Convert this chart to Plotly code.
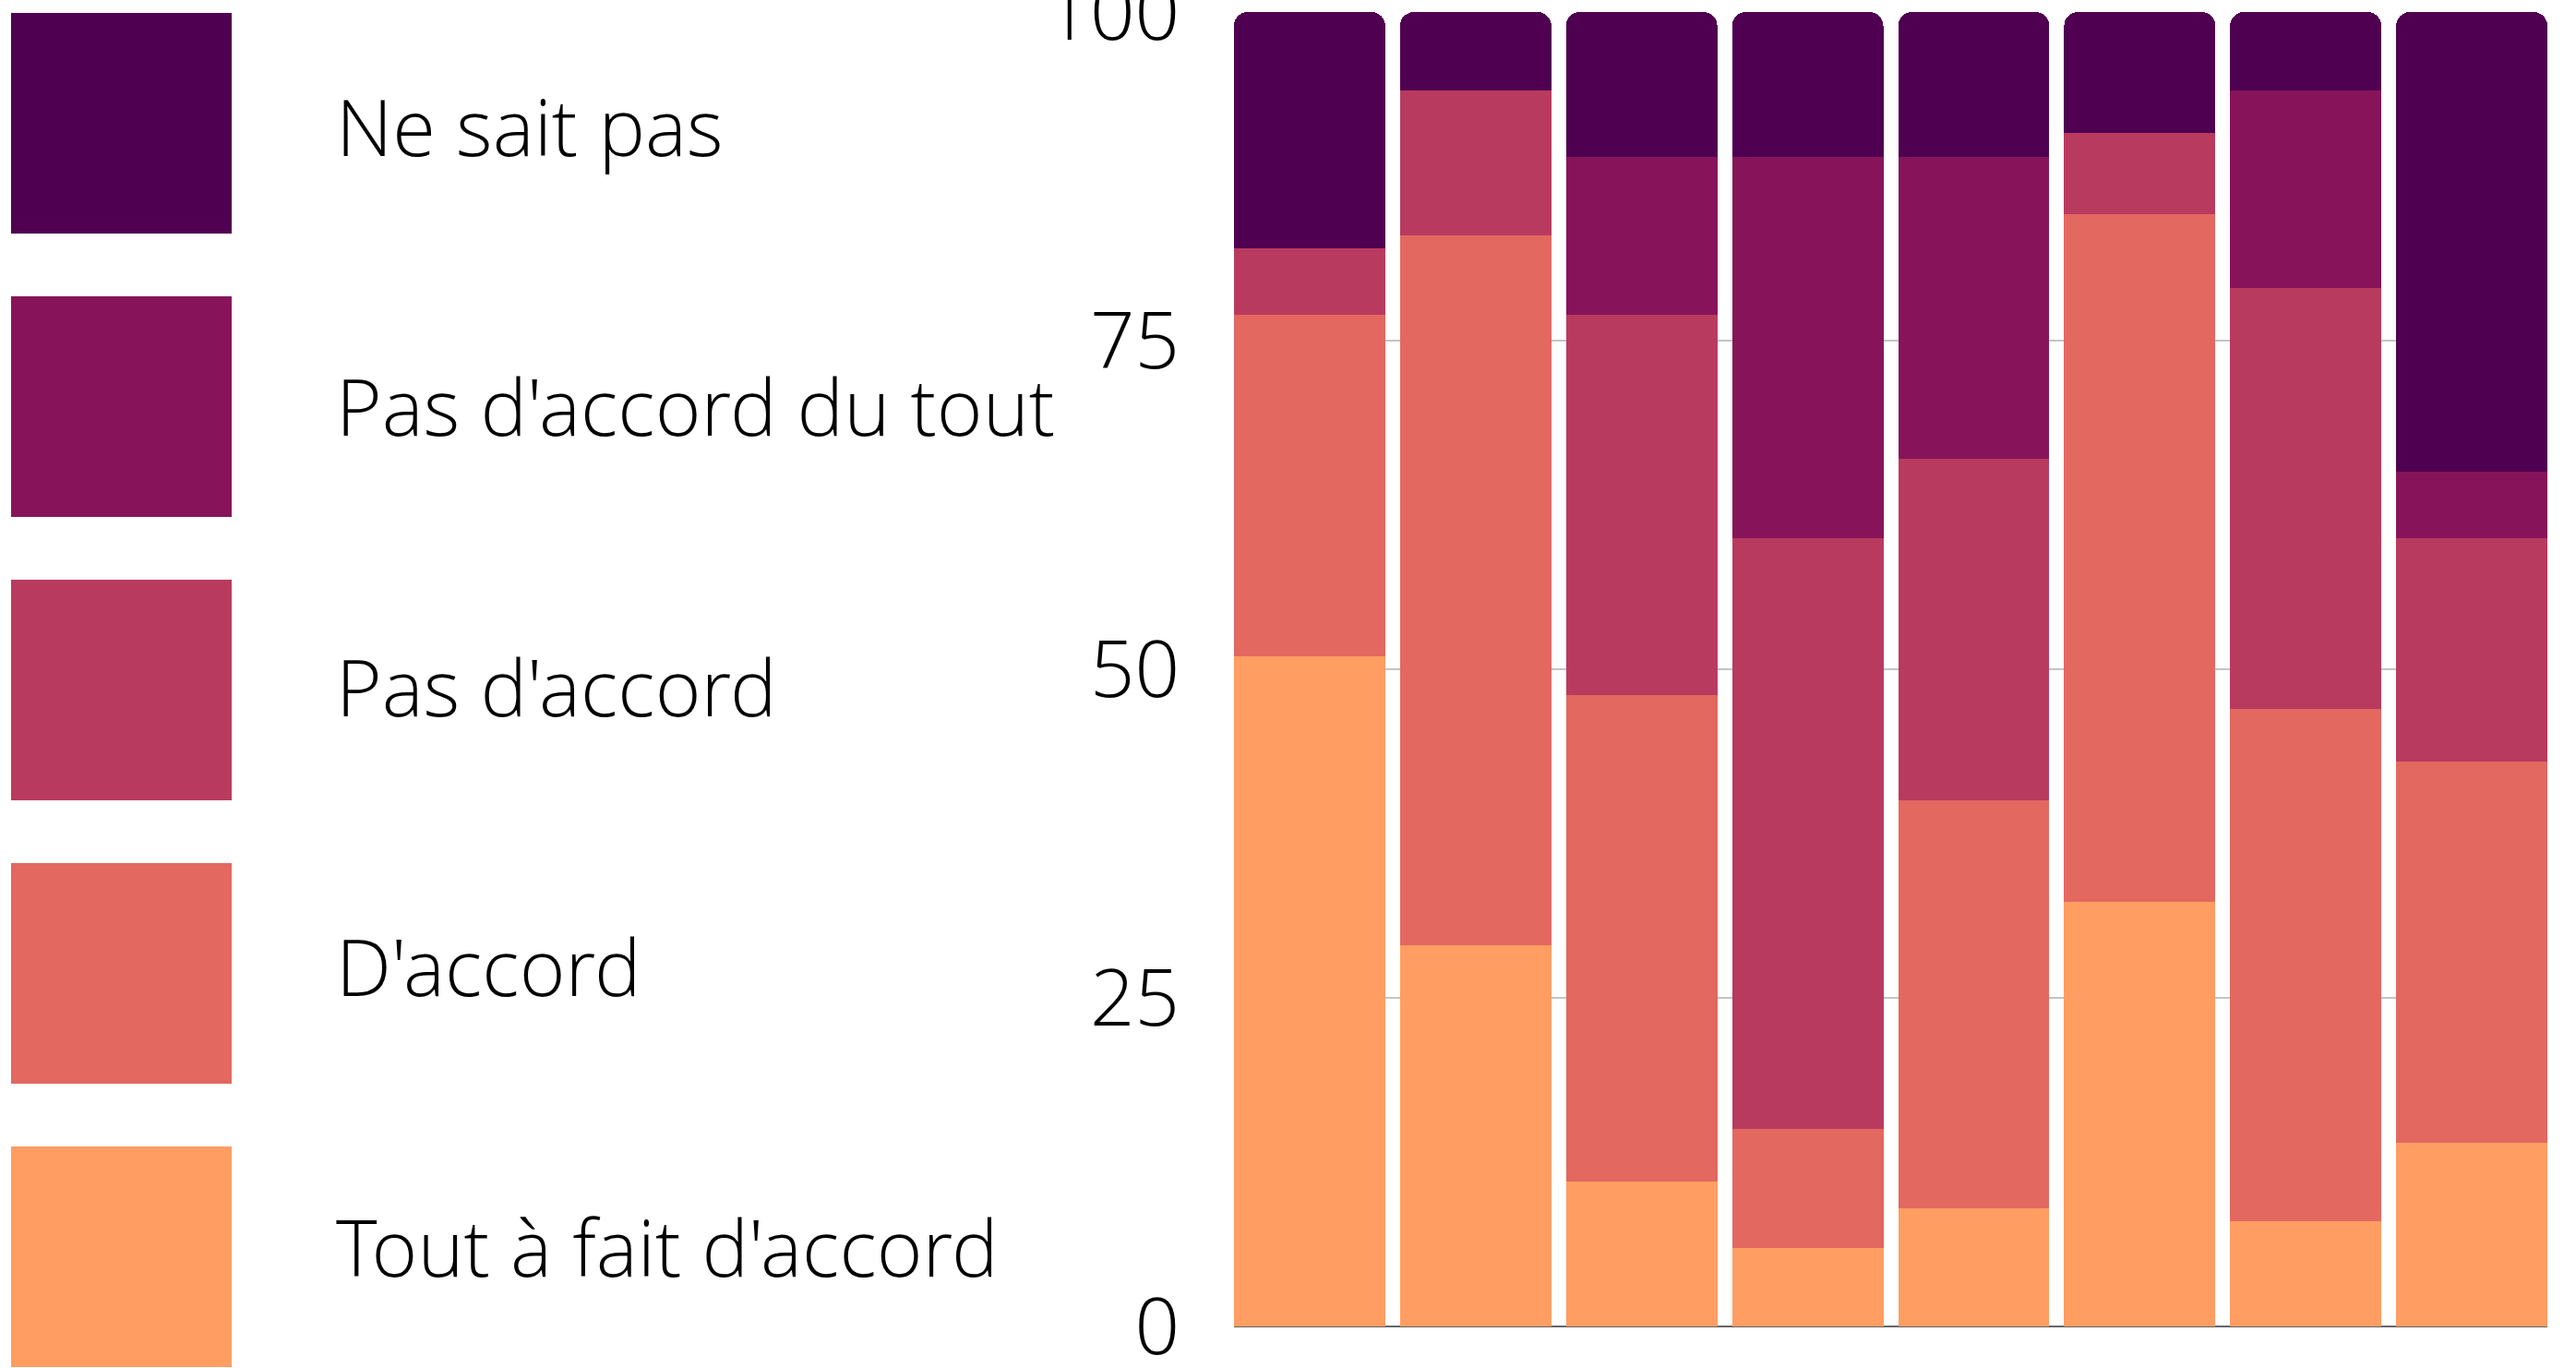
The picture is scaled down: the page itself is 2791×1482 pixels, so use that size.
import plotly.graph_objects as go

# ---- data ----
categories = ["1", "2", "3", "4", "5", "6", "7", "8"]
series_names = ["Tout à fait d'accord", "D'accord", "Pas d'accord", "Pas d'accord du tout", "Ne sait pas"]
tout_a_fait = [51, 29, 11, 6, 9, 32.3, 8, 14]
d_accord = [26, 54, 37, 9, 31, 52.3, 39, 29]
pas_d_accord = [5, 11, 29, 45, 26, 6.2, 32, 17]
pas_du_tout = [0, 0, 12, 29, 23, 0, 15, 5]
ne_sait_pas = [18, 6, 11, 11, 11, 9.2, 6, 35]
series_values = [tout_a_fait, d_accord, pas_d_accord, pas_du_tout, ne_sait_pas]
colors = ["#ff9d62", "#e26860", "#b93a5f", "#87145a", "#4f0050"]
y_ticks = [0, 25, 50, 75, 100]

# ---- layout geometry (pixels) ----
W, H = 2791, 1482
L, R, T, B = 1337, 31, 13, 45
PW, PH = W - L - R, H - T - B

def px_x(x):
    return (x - L) / PW

def px_y(y):
    return (H - B - y) / PH

FONT = "Open Sans Light, Open Sans"
FSIZE = 85

fig = go.Figure()
for name, vals, col in zip(series_names, series_values, colors):
    fig.add_trace(go.Bar(
        x=list(range(len(categories))), y=vals, name=name,
        marker=dict(color=col, line=dict(width=0)),
        showlegend=False,
    ))

# custom legend: big squares + labels (top to bottom: reverse order)
sq_top0, sq_size, sq_pitch = 14, 239, 307
txt_c0, txt_pitch = 136, 303.4
for i, (name, col) in enumerate(zip(series_names[::-1], colors[::-1])):
    top = sq_top0 + i * sq_pitch
    fig.add_shape(type="rect", xref="paper", yref="paper",
                  x0=px_x(12), x1=px_x(251), y0=px_y(top + sq_size), y1=px_y(top),
                  fillcolor=col, line=dict(width=0), layer="above")
    fig.add_annotation(xref="paper", yref="paper", x=px_x(362), y=px_y(txt_c0 + i * txt_pitch),
                       text=name, showarrow=False, xanchor="left", yanchor="middle",
                       font=dict(family=FONT, size=FSIZE, color="#000000", weight=300))

fig.update_layout(
    width=W, height=H,
    margin=dict(l=L, r=R, t=T, b=B, pad=0, autoexpand=False),
    barmode="stack", bargap=0.089, barcornerradius=15,
    plot_bgcolor="white", paper_bgcolor="white",
    font=dict(family=FONT, size=FSIZE, color="#000000", weight=300),
)
fig.update_xaxes(range=[-0.4555, 7.4555], showticklabels=False, showgrid=False,
                 zeroline=False, showline=False, ticks="", automargin=False)
fig.update_yaxes(range=[0, 100], tickvals=y_ticks, ticktext=[str(v) for v in y_ticks],
                 showgrid=True, gridcolor="#c4c4c4", gridwidth=2,
                 zeroline=True, zerolinecolor="#666666", zerolinewidth=2,
                 showline=False, ticks="", ticklabelstandoff=58, ticklabeloverflow="allow",
                 automargin=False,
                 tickfont=dict(family=FONT, size=FSIZE, color="#000000", weight=300))

fig.write_html("out.html", config={"displayModeBar": False},
               post_script="document.body.style.margin='0';document.body.style.overflow='hidden';")
